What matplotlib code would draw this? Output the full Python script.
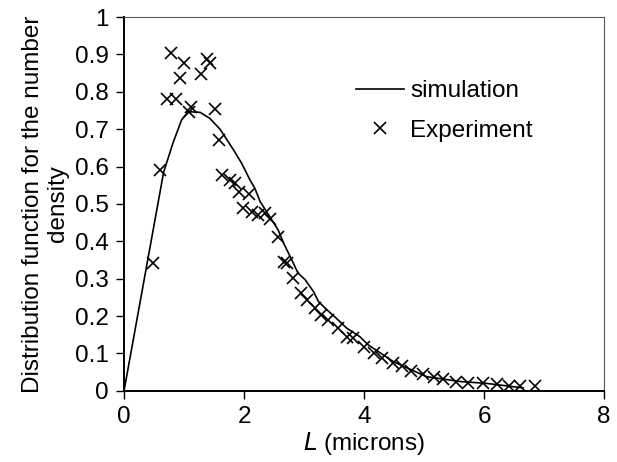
import numpy as np
import matplotlib
matplotlib.use("Agg")
import matplotlib.pyplot as plt

plt.rcParams["font.family"] = ["Liberation Sans", "DejaVu Sans"]

# simulated number-density distribution
sim_L = [0.0, 0.66, 0.82, 0.96, 1.07, 1.27, 1.43, 1.60, 1.82, 1.96, 2.10, 2.18,
         2.27, 2.43, 2.57, 2.66, 2.77, 2.90, 3.02, 3.16, 3.24, 3.38, 3.54, 3.71, 3.93,
         4.07, 4.49, 5.04, 5.60, 6.04, 6.65]
sim_f = [0.0, 0.585, 0.665, 0.725, 0.747, 0.745, 0.729, 0.700, 0.646, 0.609, 0.564,
         0.542, 0.506, 0.466, 0.430, 0.395, 0.359, 0.315, 0.297, 0.265, 0.239, 0.217,
         0.194, 0.168, 0.145, 0.123, 0.078, 0.038, 0.025, 0.020, 0.008]

# measured distribution
exp_L = [0.49, 0.60, 0.71, 0.79, 0.87, 0.94, 1.00, 1.09, 1.11, 1.28, 1.38, 1.43, 1.52,
         1.58, 1.64, 1.76, 1.85, 1.92, 1.99, 2.09, 2.13, 2.24, 2.35, 2.43, 2.56, 2.66,
         2.71, 2.82, 2.95, 3.05, 3.18, 3.29, 3.40, 3.57, 3.71, 3.82, 4.00, 4.16, 4.30,
         4.49, 4.63, 4.79, 4.99, 5.16, 5.32, 5.54, 5.74, 5.99, 6.21, 6.41, 6.60, 6.85]
exp_f = [0.341, 0.591, 0.782, 0.903, 0.782, 0.836, 0.878, 0.747, 0.760, 0.849, 0.889,
         0.876, 0.754, 0.671, 0.578, 0.564, 0.556, 0.533, 0.488, 0.528, 0.479, 0.471,
         0.475, 0.459, 0.411, 0.346, 0.341, 0.301, 0.261, 0.243, 0.221, 0.203, 0.190,
         0.168, 0.145, 0.141, 0.118, 0.100, 0.087, 0.074, 0.067, 0.052, 0.045, 0.038,
         0.031, 0.025, 0.020, 0.020, 0.017, 0.014, 0.014, 0.014]

FS = 17.5

fig = plt.figure(figsize=(6.17, 4.62), dpi=100)
ax = fig.add_axes([0.201, 0.154, 0.778, 0.809])

ax.plot(sim_L, sim_f, "-", color="black", lw=1.2, label="simulation")
ax.plot(exp_L, exp_f, "x", color="black", ms=9, mew=1.2, label="Experiment")

ax.set_xlim(0, 8)
ax.set_ylim(0, 1)
ax.set_xticks(np.arange(0, 9, 2))
ax.set_yticks(np.round(np.arange(0, 1.01, 0.1), 1))
ax.set_yticklabels(["0"] + [f"{v:.1f}" for v in np.arange(0.1, 0.95, 0.1)] + ["1"])
ax.tick_params(direction="out", length=6, width=1, labelsize=FS, pad=5)

for s in ("left", "bottom"):
    ax.spines[s].set_linewidth(1.4)
for s in ("top", "right"):
    ax.spines[s].set_linewidth(0.8)
    ax.spines[s].set_color("#555555")

ax.set_xlabel("$\\mathit{L}$ (microns)", fontsize=FS, labelpad=1)
ax.set_ylabel("Distribution function for the number\ndensity", fontsize=FS,
              multialignment="center", labelpad=4)

ax.legend(loc="upper left", bbox_to_anchor=(0.437, 0.89), frameon=False, fontsize=FS,
          handlelength=2.0, handletextpad=0.25, labelspacing=0.72)

fig.savefig("out.png", dpi=100)
